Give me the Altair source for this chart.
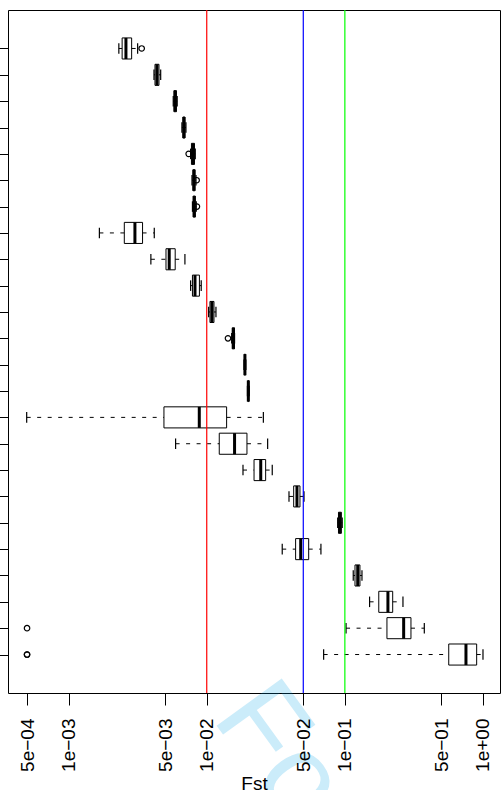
import altair as alt
import pandas as pd

# Five-number summaries of Fst per group, listed from the top box down
low = [2.31e-3, 4.15e-3, 5.72e-3, 6.61e-3, 7.64e-3, 7.82e-3, 7.88e-3, 1.67e-3,
       3.94e-3, 7.64e-3, 1.032e-2, 1.515e-2, 1.86e-2, 1.97e-2, 4.97e-4, 5.95e-3,
       1.83e-2, 3.94e-2, 8.87e-2, 3.52e-2, 0.115, 0.151, 0.102, 0.0702]
q1 = [2.44e-3, 4.22e-3, 5.79e-3, 6.72e-3, 7.75e-3, 7.95e-3, 7.98e-3, 2.53e-3,
      5.07e-3, 7.88e-3, 1.055e-2, 1.53e-2, 1.875e-2, 1.985e-2, 4.90e-3, 1.232e-2,
      2.20e-2, 4.26e-2, 8.99e-2, 4.40e-2, 0.1184, 0.176, 0.2017, 0.565]
med = [2.60e-3, 4.36e-3, 5.91e-3, 6.84e-3, 7.95e-3, 8.08e-3, 8.12e-3, 3.02e-3,
       5.35e-3, 8.22e-3, 1.09e-2, 1.56e-2, 1.89e-2, 2.00e-2, 8.83e-3, 1.59e-2,
       2.46e-2, 4.50e-2, 9.21e-2, 4.79e-2, 0.1239, 0.205, 0.2665, 0.753]
q3 = [2.86e-3, 4.51e-3, 6.03e-3, 6.95e-3, 8.15e-3, 8.22e-3, 8.26e-3, 3.43e-3,
      5.91e-3, 8.85e-3, 1.128e-2, 1.588e-2, 1.905e-2, 2.015e-2, 1.393e-2, 1.955e-2,
      2.67e-2, 4.73e-2, 9.43e-2, 5.47e-2, 0.1286, 0.222, 0.301, 0.900]
high = [3.16e-3, 4.64e-3, 6.11e-3, 7.07e-3, 8.26e-3, 8.36e-3, 8.40e-3, 4.17e-3,
        6.95e-3, 9.12e-3, 1.166e-2, 1.59e-2, 1.92e-2, 2.03e-2, 2.57e-2, 2.76e-2,
        2.98e-2, 5.06e-2, 9.57e-2, 6.71e-2, 0.133, 0.2634, 0.376, 1.0]

# Outlying points: box number (counted from the top) and value
out_box = [1, 5, 6, 7, 12, 23, 24, 24]
out_val = [3.38e-3, 7.40e-3, 8.45e-3, 8.49e-3, 1.425e-2, 5.0e-4, 5.0e-4, 5.0e-4]

# Reference thresholds
ref_vals = [0.01, 0.05, 0.1]
ref_cols = ["#FF0000", "#0000FF", "#00FF00"]

tick_vals = [5e-4, 1e-3, 5e-3, 1e-2, 5e-2, 1e-1, 5e-1, 1.0]
tick_labels = ["5e\u221204", "1e\u221203", "5e\u221203", "1e\u221202",
               "5e\u221202", "1e\u221201", "5e\u221201", "1e+00"]

n = len(med)
boxes = pd.DataFrame({
    "pos": [n - i for i in range(n)],
    "low": low, "q1": q1, "med": med, "q3": q3, "high": high,
})
outs = pd.DataFrame({"pos": [n + 1 - b for b in out_box], "val": out_val})
refs = pd.DataFrame({"val": ref_vals, "col": ref_cols})
mark_txt = pd.DataFrame({"t": ["For Peer Review"]})

FONT = "Liberation Sans"

x_scale = alt.Scale(type="log", domain=[3.64e-4, 1.328], nice=False)
y_scale = alt.Scale(domain=[-0.46, 25.46], nice=False, zero=False)

label_expr = "{}[indexof({}, datum.value)]".format(
    "[" + ",".join("'" + s + "'" for s in tick_labels) + "]",
    "[" + ",".join(repr(v) for v in tick_vals) + "]",
)

x_axis = alt.Axis(
    values=tick_vals, labelExpr=label_expr, title="Fst",
    labelAngle=270, labelFontSize=19, labelFont=FONT, labelColor="black",
    labelPadding=13, labelOverlap=False, labelFlush=False,
    tickSize=12, tickColor="black", tickWidth=1,
    titleFont=FONT, titleFontSize=19, titleFontWeight="normal", titleColor="black",
    titleY=96, titleBaseline="alphabetic",
    domain=False, grid=False, zindex=1,
)
y_axis = alt.Axis(
    values=list(range(1, n + 1)), labels=False, title=None,
    tickSize=12, tickColor="black", tickWidth=1,
    domain=False, grid=False, zindex=1,
)


def X(field):
    return alt.X(field, type="quantitative", scale=x_scale, axis=x_axis)


def Y(field):
    return alt.Y(field, type="quantitative", scale=y_scale, axis=y_axis)


base = alt.Chart(boxes).transform_calculate(
    y0="datum.pos - 0.4", y1="datum.pos + 0.4",
    s0="datum.pos - 0.2", s1="datum.pos + 0.2",
)

dash = [4, 6.5]
whisk_lo = base.mark_rule(color="black", strokeWidth=1, strokeDash=dash).encode(
    x=X("low"), x2="q1", y=Y("pos"))
whisk_hi = base.mark_rule(color="black", strokeWidth=1, strokeDash=dash).encode(
    x=X("q3"), x2="high", y=Y("pos"))
staple_lo = base.mark_rule(color="black", strokeWidth=1.2).encode(
    x=X("low"), y=Y("s0"), y2="s1")
staple_hi = base.mark_rule(color="black", strokeWidth=1.2).encode(
    x=X("high"), y=Y("s0"), y2="s1")
box = base.mark_rect(fill="transparent", stroke="black", strokeWidth=1).encode(
    x=X("q1"), x2="q3", y=Y("y0"), y2="y1")
median = base.mark_rule(color="black", strokeWidth=3, strokeCap="butt").encode(
    x=X("med"), y=Y("y0"), y2="y1")
outliers = alt.Chart(outs).mark_point(
    shape="circle", filled=False, size=30, strokeWidth=1.2, color="black", opacity=1
).encode(x=X("val"), y=Y("pos"))
ref_lines = alt.Chart(refs).mark_rule(strokeWidth=1.2).encode(
    x=X("val"), color=alt.Color("col:N", scale=None))
stamp = alt.Chart(mark_txt).mark_text(
    angle=54, fontSize=117, font=FONT, align="left", baseline="alphabetic",
    color="#00A2E8", opacity=0.2,
).encode(x=alt.value(203), y=alt.value(708), text="t:N")

chart = alt.layer(
    whisk_lo, whisk_hi, staple_lo, staple_hi, box, median, outliers, ref_lines, stamp
).properties(
    width=492, height=683,
    autosize="none",
    padding={"left": 8, "top": 10, "right": 1, "bottom": 97},
    background="white",
).configure_view(
    stroke="black", strokeWidth=1,
)

chart.save("out.html", embed_options={"renderer": "svg", "actions": False})
